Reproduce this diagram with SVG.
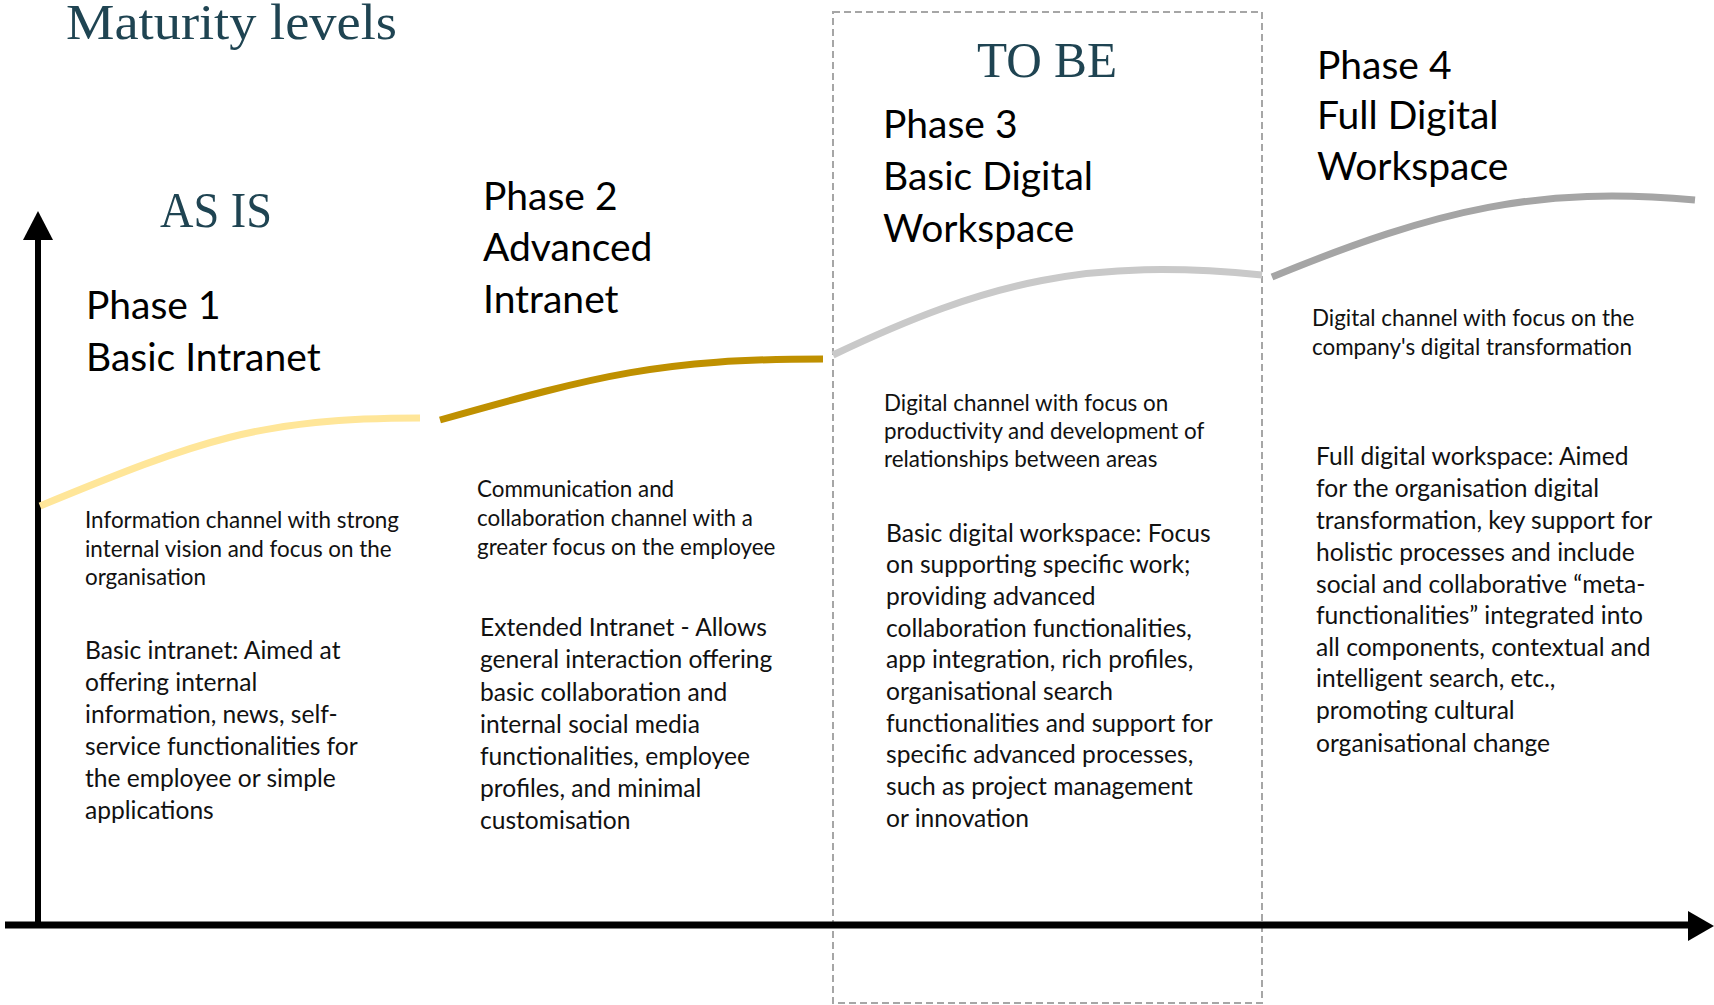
<svg xmlns="http://www.w3.org/2000/svg" width="1714" height="1005" viewBox="0 0 1714 1005">
  <style>
    .serif { font-family: "Liberation Serif", "DejaVu Serif", serif; fill: #1F4452; font-size: 51px; }
    .head { font-family: Lato, "Open Sans", "Liberation Sans", sans-serif; fill: #000; font-size: 39px; }
    .desc { font-family: Lato, "Open Sans", "Liberation Sans", sans-serif; fill: #111; font-size: 22.4px; }
    .body { font-family: Lato, "Open Sans", "Liberation Sans", sans-serif; fill: #111; font-size: 24.6px; }
    .curve { fill: none; stroke-width: 7; }
  </style>
  <rect width="1714" height="1005" fill="#fff"/>

  <!-- titles -->
  <text class="serif" x="66" y="39" textLength="331" lengthAdjust="spacingAndGlyphs">Maturity levels</text>
  <text class="serif" x="160" y="227" textLength="112" lengthAdjust="spacingAndGlyphs">AS IS</text>

  <!-- target-state frame -->
  <g id="tobe">
    <rect x="833" y="12" width="429" height="991" fill="none" stroke="#A6A6A6" stroke-width="2" stroke-dasharray="7 4"/>
    <text class="serif" x="977" y="77" textLength="140" lengthAdjust="spacingAndGlyphs">TO BE</text>
  </g>

  <!-- axes -->
  <g id="axes">
    <line x1="38" y1="925" x2="38" y2="238" stroke="#000" stroke-width="6"/>
    <polygon points="23,240 38,211 53,240" fill="#000"/>
    <line x1="5" y1="925" x2="1690" y2="925" stroke="#000" stroke-width="7"/>
    <polygon points="1688,911 1714,926 1688,941" fill="#000"/>
  </g>

  <!-- maturity curves -->
  <g id="connectors">
    <path class="curve" stroke="#FFE699" d="M 40,506 C 200,440 260,418 420,418"/>
    <path class="curve" stroke="#BF9000" d="M 440,420 C 600,375 660,359 823,359"/>
    <path class="curve" stroke="#C9C9C9" d="M 833,355 C 990,280 1090,258 1262,275"/>
    <path class="curve" stroke="#A5A5A5" d="M 1272,277 C 1440,208 1540,186 1695,200"/>
  </g>

  <!-- phase 1 -->
  <g id="phase1">
    <text class="head"><tspan x="86" y="319">Phase 1</tspan><tspan x="86" y="371">Basic Intranet</tspan></text>
    <text class="desc"><tspan x="85" y="528">Information channel with strong</tspan><tspan x="85" y="557">internal vision and focus on the</tspan><tspan x="85" y="585">organisation</tspan></text>
    <text class="body"><tspan x="85" y="659">Basic intranet: Aimed at</tspan><tspan x="85" y="691">offering internal</tspan><tspan x="85" y="723">information, news, self-</tspan><tspan x="85" y="755">service functionalities for</tspan><tspan x="85" y="787">the employee or simple</tspan><tspan x="85" y="819">applications</tspan></text>
  </g>

  <!-- phase 2 -->
  <g id="phase2">
    <text class="head"><tspan x="483" y="210">Phase 2</tspan><tspan x="483" y="261">Advanced</tspan><tspan x="483" y="313">Intranet</tspan></text>
    <text class="desc"><tspan x="477" y="497">Communication and</tspan><tspan x="477" y="526">collaboration channel with a</tspan><tspan x="477" y="555">greater focus on the employee</tspan></text>
    <text class="body"><tspan x="480" y="636">Extended Intranet - Allows</tspan><tspan x="480" y="668">general interaction offering</tspan><tspan x="480" y="701">basic collaboration and</tspan><tspan x="480" y="733">internal social media</tspan><tspan x="480" y="765">functionalities, employee</tspan><tspan x="480" y="797">profiles, and minimal</tspan><tspan x="480" y="829">customisation</tspan></text>
  </g>

  <!-- phase 3 -->
  <g id="phase3">
    <text class="head"><tspan x="883" y="138">Phase 3</tspan><tspan x="883" y="190">Basic Digital</tspan><tspan x="883" y="242">Workspace</tspan></text>
    <text class="desc"><tspan x="884" y="411">Digital channel with focus on</tspan><tspan x="884" y="439">productivity and development of</tspan><tspan x="884" y="467">relationships between areas</tspan></text>
    <text class="body"><tspan x="886" y="542">Basic digital workspace: Focus</tspan><tspan x="886" y="573">on supporting specific work;</tspan><tspan x="886" y="605">providing advanced</tspan><tspan x="886" y="637">collaboration functionalities,</tspan><tspan x="886" y="668">app integration, rich profiles,</tspan><tspan x="886" y="700">organisational search</tspan><tspan x="886" y="732">functionalities and support for</tspan><tspan x="886" y="763">specific advanced processes,</tspan><tspan x="886" y="795">such as project management</tspan><tspan x="886" y="827">or innovation</tspan></text>
  </g>

  <!-- phase 4 -->
  <g id="phase4">
    <text class="head"><tspan x="1317" y="79">Phase 4</tspan><tspan x="1317" y="129">Full Digital</tspan><tspan x="1317" y="180">Workspace</tspan></text>
    <text class="desc"><tspan x="1312" y="326">Digital channel with focus on the</tspan><tspan x="1312" y="355">company's digital transformation</tspan></text>
    <text class="body"><tspan x="1316" y="465">Full digital workspace: Aimed</tspan><tspan x="1316" y="497">for the organisation digital</tspan><tspan x="1316" y="529">transformation, key support for</tspan><tspan x="1316" y="561">holistic processes and include</tspan><tspan x="1316" y="593">social and collaborative “meta-</tspan><tspan x="1316" y="624">functionalities” integrated into</tspan><tspan x="1316" y="656">all components, contextual and</tspan><tspan x="1316" y="687">intelligent search, etc.,</tspan><tspan x="1316" y="719">promoting cultural</tspan><tspan x="1316" y="752">organisational change</tspan></text>
  </g>
</svg>
